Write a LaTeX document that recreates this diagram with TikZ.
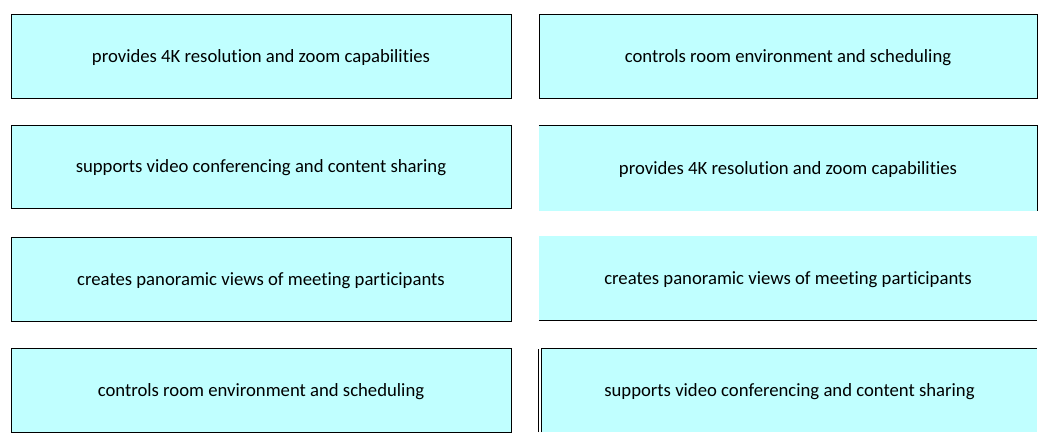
\documentclass[tikz,border=0pt]{standalone}
\usepackage{fontspec}
\setmainfont[Ligatures=NoCommon]{Carlito}
\usepackage{tikz}
\definecolor{boxfill}{RGB}{192,255,255}
\tikzset{
  answer/.style={fill=boxfill, inner sep=0pt, minimum width=500pt, minimum height=84pt,
    text depth=0pt, font=\fontsize{18.7}{22}\selectfont},
  framed/.style={answer, draw=black, line width=1pt},
  edge/.style={draw=black, line width=1pt}
}

\begin{document}
\begin{tikzpicture}[x=1pt,y=-1pt]
\useasboundingbox (0,0) rectangle (1057,447);
% left column
\node[framed] (l1) at (261,56) {provides 4K resolution and zoom capabilities};
\node[framed, minimum height=83pt] (l2) at (261,166.5) {supports video conferencing and content sharing};
\node[framed] (l3) at (261,279) {creates panoramic views of meeting participants};
\node[framed] (l4) at (261,390) {controls room environment and scheduling};
% right column
\node[framed, minimum width=498pt] (r1) at (788,56) {controls room environment and scheduling};
\node[answer, minimum width=498pt, minimum height=85pt] (r2) at (788,168.5) {provides 4K resolution and zoom capabilities};
\node[answer, minimum width=498pt] (r3) at (788,278) {creates panoramic views of meeting participants};
\node[answer, minimum width=495pt, minimum height=83pt] (r4) at (789.5,390.5) {supports video conferencing and content sharing};
\draw[edge] (r2.north west) -- (r2.north east) -- (r2.south east);
\draw[edge] (r3.south west) -- (r3.south east);
\draw[edge] (r4.south west) -- (r4.north west) -- (r4.north east);
\draw[edge] ([xshift=-3pt]r4.south west) -- ([xshift=-3pt]r4.north west);
\end{tikzpicture}
\end{document}
